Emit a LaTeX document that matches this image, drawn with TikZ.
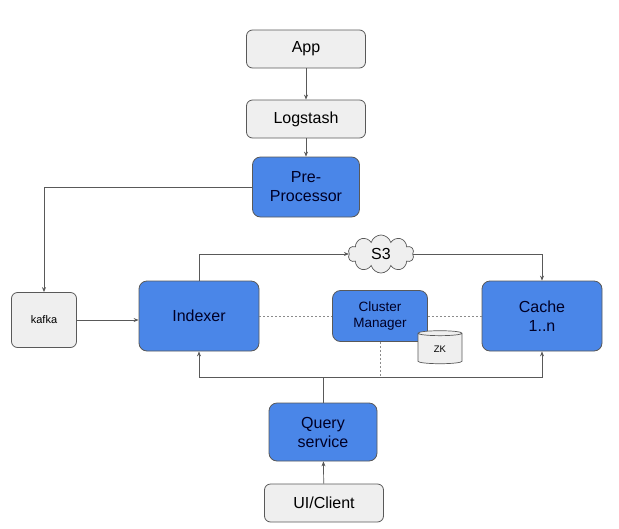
\documentclass[tikz,border=0pt]{standalone}
\usepackage{fontspec}
\setmainfont{Liberation Sans}
\usetikzlibrary{shapes.symbols,shapes.geometric,arrows.meta}
\definecolor{bl}{HTML}{4A86E8}
\definecolor{gf}{HTML}{EFEFEF}
\definecolor{ln}{HTML}{595959}
\begin{document}
\begin{tikzpicture}[x=1pt,y=-1pt,
  gbox/.style={draw=ln,fill=gf,rounded corners=6pt,line width=0.8pt,minimum width=119pt,minimum height=38pt,font=\fontsize{16}{19}\selectfont,align=center},
  bbox/.style={draw=ln,fill=bl,rounded corners=8pt,line width=0.8pt,align=center,text=black!85!blue,font=\fontsize{16}{19}\selectfont},
  conn/.style={draw=ln,line width=0.7pt,-{Stealth[length=5pt,width=4pt]}},
  dotc/.style={draw=ln!70,line width=0.6pt,dash pattern=on 2pt off 2pt}]
\useasboundingbox (0,0) rectangle (619,528);
\node[gbox] (app) at (306,49) {App};
\node[gbox] (log) at (306,119) {Logstash};
\node[bbox,minimum width=107pt,minimum height=60pt] (pre) at (306,187) {Pre-\\Processor};
\node[gbox,minimum width=65pt,minimum height=55pt,font=\fontsize{11}{13}\selectfont] (kafka) at (44,320) {kafka};
\node[bbox,minimum width=120pt,minimum height=70pt] (idx) at (199,316) {Indexer};
\node[bbox,minimum width=95pt,minimum height=51pt,font=\fontsize{13.5}{16}\selectfont] (cm) at (380,316) {Cluster\\Manager};
\node[cylinder,shape border rotate=90,aspect=0.35,draw=ln,fill=gf,line width=0.7pt,minimum width=44pt,minimum height=33pt,font=\fontsize{9.5}{11}\selectfont,inner sep=1pt] (zk) at (440,349) {ZK};
\node[bbox,minimum width=120pt,minimum height=70pt] (cache) at (542,316) {Cache\\1..n};
\node[cloud,cloud puffs=10,aspect=1.7,draw=ln,fill=gf,line width=0.7pt,minimum width=66pt,minimum height=38pt,inner sep=0pt,font=\fontsize{16}{19}\selectfont] (s3) at (381,254) {S3};
\node[bbox,minimum width=108pt,minimum height=58pt] (qs) at (323,432) {Query\\service};
\node[gbox] (ui) at (324,503) {UI/Client};
\coordinate (jq) at (323,377);
\coordinate (ji) at (199,377);
\coordinate (jc) at (542,377);
\draw[conn] (app) -- (log);
\draw[conn] (log) -- (pre);
\draw[conn] (pre.west) -| (kafka.north);
\draw[conn] (kafka.east) -- (idx.west |- kafka.east);
\draw[conn] (idx.north) |- (s3.west);
\draw[conn] (s3.east) -| (cache.north);
\draw[conn] (ui) -- (qs);
\draw[draw=ln,line width=0.7pt] (qs.north) -- (jq);
\draw[conn] (jq) -- (ji) -- (idx.south);
\draw[conn] (jq) -- (jc) -- (cache.south);
\draw[dotc] (idx.east) -- (cm.west);
\draw[dotc] (cm.east) -- (cache.west);
\draw[dotc] (cm.south) -- (cm.south |- jq);
\end{tikzpicture}
\end{document}
